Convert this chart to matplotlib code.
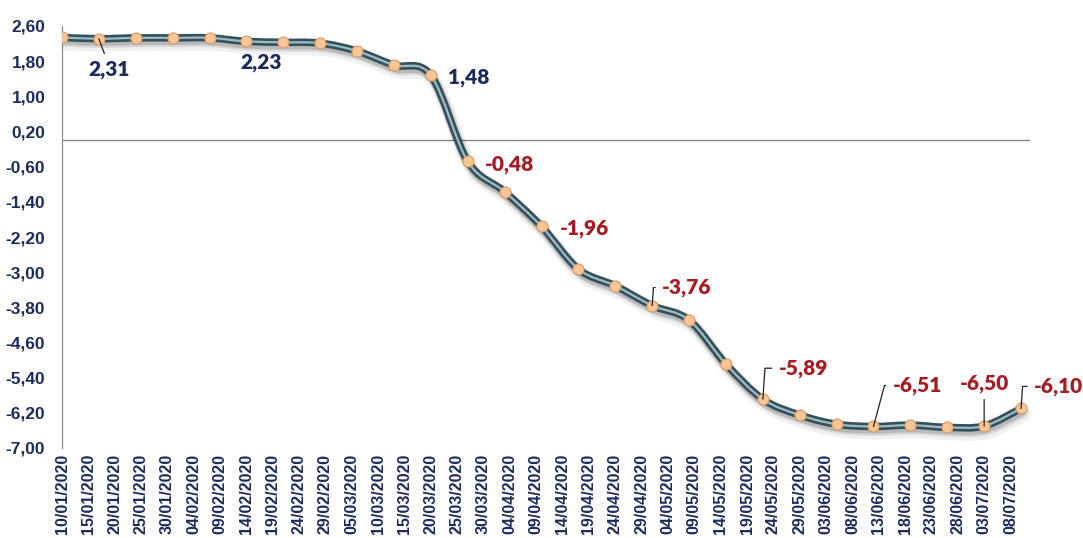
import matplotlib
matplotlib.use("Agg")
import matplotlib.pyplot as plt
import matplotlib.dates as mdates
import matplotlib.transforms as mtransforms
from matplotlib.path import Path
from matplotlib.patches import PathPatch
import pandas as pd

# weekly readings
point_dates = ["2020-01-10", "2020-01-17", "2020-01-24", "2020-01-31", "2020-02-07",
               "2020-02-14", "2020-02-21", "2020-02-28", "2020-03-06", "2020-03-13",
               "2020-03-20", "2020-03-27", "2020-04-03", "2020-04-10", "2020-04-17",
               "2020-04-24", "2020-05-01", "2020-05-08", "2020-05-15", "2020-05-22",
               "2020-05-29", "2020-06-05", "2020-06-12", "2020-06-19", "2020-06-26",
               "2020-07-03", "2020-07-10"]
values = [2.34, 2.31, 2.33, 2.33, 2.33, 2.25, 2.23, 2.21, 2.03, 1.71,
          1.48, -0.48, -1.17, -1.96, -2.93, -3.31, -3.76, -4.09, -5.09, -5.89,
          -6.25, -6.46, -6.51, -6.48, -6.53, -6.50, -6.10]

# axis ticks
tick_dates = ["2020-01-10", "2020-01-15", "2020-01-20", "2020-01-25", "2020-01-30",
              "2020-02-04", "2020-02-09", "2020-02-14", "2020-02-19", "2020-02-24",
              "2020-02-29", "2020-03-05", "2020-03-10", "2020-03-15", "2020-03-20",
              "2020-03-25", "2020-03-30", "2020-04-04", "2020-04-09", "2020-04-14",
              "2020-04-19", "2020-04-24", "2020-04-29", "2020-05-04", "2020-05-09",
              "2020-05-14", "2020-05-19", "2020-05-24", "2020-05-29", "2020-06-03",
              "2020-06-08", "2020-06-13", "2020-06-18", "2020-06-23", "2020-06-28",
              "2020-07-03", "2020-07-08"]
y_ticks = [2.60, 1.80, 1.00, 0.20, -0.60, -1.40, -2.20, -3.00, -3.80, -4.60, -5.40, -6.20, -7.00]

# which points get a value label
label_idx = [1, 6, 10, 11, 13, 16, 19, 22, 25, 26]

NAVY = "#1d2b5b"
RED = "#a51c22"

x = mdates.date2num(pd.to_datetime(point_dates))
ticks = mdates.date2num(pd.to_datetime(tick_dates))

fig = plt.figure(figsize=(10.83, 5.38), dpi=100)
ax = fig.add_axes([62 / 1083, 1 - 448 / 538, 968 / 1083, 422 / 538])

# smoothed line (catmull-rom as bezier, like excel smoothing)
pts = list(zip(x, values))
verts = [pts[0]]
codes = [Path.MOVETO]
n = len(pts)
for i in range(n - 1):
    p0 = pts[max(i - 1, 0)]
    p1 = pts[i]
    p2 = pts[i + 1]
    p3 = pts[min(i + 2, n - 1)]
    c1 = (p1[0] + (p2[0] - p0[0]) / 6, p1[1] + (p2[1] - p0[1]) / 6)
    c2 = (p2[0] - (p3[0] - p1[0]) / 6, p2[1] - (p3[1] - p1[1]) / 6)
    verts += [c1, c2, p2]
    codes += [Path.CURVE4] * 3
path = Path(verts, codes)

for dx, dy, lw, a in [(3, -6, 10, 0.06), (2, -4, 7.5, 0.10), (1, -3, 6, 0.14)]:
    shadow_tr = ax.transData + mtransforms.ScaledTranslation(dx / 100, dy / 100, fig.dpi_scale_trans)
    ax.add_patch(PathPatch(path, fill=False, edgecolor="black", lw=lw, alpha=a,
                           transform=shadow_tr, capstyle="round", zorder=2))
ax.add_patch(PathPatch(path, fill=False, edgecolor="#34505b", lw=5.4, capstyle="round", zorder=3))
ax.add_patch(PathPatch(path, fill=False, edgecolor="#9dbcc6", lw=1.6, capstyle="round", zorder=3))
ax.plot(x, values, "o", ms=8, mfc="#f8c597", mec="#dc9a62", mew=0.8, zorder=5)

# zero line
ax.axhline(0, color="#7f7f7f", lw=0.9, zorder=1)

# value labels (offset px, ha, leader style)
label_specs = {
    1: ((10, -31), "center", ("arc3", (0.45, 1.0))),
    6: ((-22, -20), "center", None),
    10: ((17, -2), "left", None),
    11: ((17, -3), "left", None),
    13: ((18, -2), "left", None),
    16: ((10, 18), "left", ("angle,angleA=0,angleB=86,rad=0", (0, 0.5))),
    19: ((16, 31), "left", ("angle,angleA=0,angleB=86,rad=0", (0, 0.5))),
    22: ((19, 41), "left", ("angle,angleA=0,angleB=75,rad=0", (0, 0.5))),
    25: ((0, 43), "center", ("arc3", (0.5, 0.0))),
    26: ((13, 22), "left", ("angle,angleA=0,angleB=86,rad=0", (0, 0.5))),
}
for i in label_idx:
    off, ha, leader = label_specs[i]
    txt = f"{values[i]:.2f}".replace(".", ",")
    col = NAVY if values[i] > 0 else RED
    kw = {}
    if leader:
        kw["arrowprops"] = dict(arrowstyle="-", color="#222222", lw=0.9, shrinkA=3, shrinkB=0,
                                connectionstyle=leader[0], relpos=leader[1])
    ax.annotate(txt, xy=(x[i], values[i]), xytext=off, textcoords="offset pixels",
                ha=ha, va="center", fontsize=15, fontweight="heavy", family=["Lato", "DejaVu Sans"],
                color=col, zorder=6, **kw)

ax.set_ylim(-7.0, 2.6)
ax.set_xlim(x[0], x[0] + 183.7)
ax.set_yticks(y_ticks)
ax.set_yticklabels([f"{v:.2f}".replace(".", ",") for v in y_ticks])
ax.set_xticks(ticks)
ax.set_xticklabels([pd.Timestamp(d).strftime("%d/%m/%Y") for d in tick_dates], rotation=90)
ax.tick_params(axis="y", length=0, pad=12)
ax.tick_params(axis="x", length=0, pad=4)
for lab in ax.get_yticklabels():
    lab.set_family(["Liberation Sans Narrow", "Liberation Sans", "DejaVu Sans"])
    lab.set_fontweight("bold")
    lab.set_color(NAVY)
    lab.set_fontsize(12.5)
for lab in ax.get_xticklabels():
    lab.set_family(["Liberation Sans Narrow", "Liberation Sans", "DejaVu Sans"])
    lab.set_fontweight("bold")
    lab.set_color(NAVY)
    lab.set_fontsize(11.5)

for s in ["top", "right", "bottom"]:
    ax.spines[s].set_visible(False)
ax.spines["left"].set_color("#8c8c8c")
ax.spines["left"].set_linewidth(0.9)

fig.savefig("out.png", dpi=100)
